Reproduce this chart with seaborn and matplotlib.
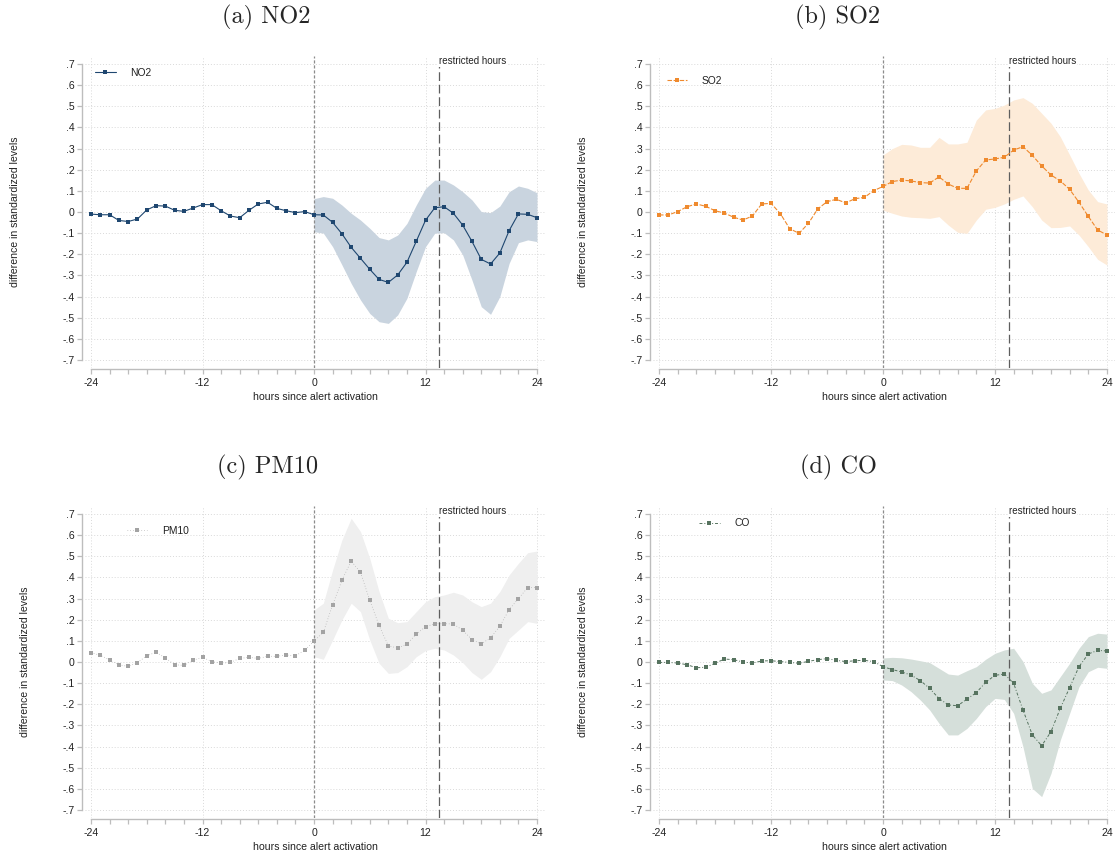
import numpy as np
import pandas as pd
import matplotlib
matplotlib.use("Agg")
import matplotlib.pyplot as plt
import seaborn as sns
from matplotlib.ticker import FixedLocator, FuncFormatter

# Event-study estimates: hours relative to alert activation
hours = list(range(-24, 25))
post_hours = list(range(0, 25))

no2 = [-0.010, -0.013, -0.013, -0.040, -0.045, -0.033, 0.010, 0.030, 0.028, 0.008,
       0.003, 0.019, 0.035, 0.035, 0.006, -0.019, -0.027, 0.008, 0.038, 0.046,
       0.017, 0.006, -0.003, 0.002,
       -0.013, -0.014, -0.049, -0.103, -0.167, -0.219, -0.271, -0.319, -0.333, -0.298,
       -0.238, -0.139, -0.039, 0.020, 0.025, -0.006, -0.062, -0.139, -0.224, -0.246,
       -0.194, -0.088, -0.009, -0.011, -0.027]
no2_hi = [0.063, 0.073, 0.065, 0.033, -0.006, -0.038, -0.077, -0.121, -0.132, -0.109,
          -0.054, 0.033, 0.112, 0.151, 0.151, 0.128, 0.096, 0.057, 0.002, -0.003,
          0.028, 0.096, 0.123, 0.112, 0.091]
no2_lo = [-0.093, -0.100, -0.164, -0.250, -0.338, -0.416, -0.480, -0.519, -0.527, -0.487,
          -0.408, -0.282, -0.164, -0.100, -0.098, -0.132, -0.203, -0.322, -0.448, -0.484,
          -0.400, -0.243, -0.145, -0.132, -0.140]

so2 = [-0.014, -0.014, 0.002, 0.025, 0.038, 0.027, 0.006, -0.005, -0.025, -0.038,
       -0.019, 0.038, 0.041, -0.008, -0.079, -0.101, -0.054, 0.014, 0.049, 0.060,
       0.043, 0.063, 0.069, 0.101,
       0.121, 0.144, 0.151, 0.147, 0.139, 0.137, 0.166, 0.132, 0.112, 0.112,
       0.194, 0.246, 0.251, 0.259, 0.293, 0.309, 0.268, 0.218, 0.175, 0.147,
       0.107, 0.046, -0.021, -0.085, -0.109]
so2_hi = [0.270, 0.300, 0.320, 0.317, 0.306, 0.306, 0.353, 0.322, 0.322, 0.330,
          0.435, 0.483, 0.490, 0.506, 0.530, 0.541, 0.514, 0.467, 0.420, 0.356,
          0.270, 0.183, 0.104, 0.049, 0.038]
so2_lo = [0.009, -0.006, -0.019, -0.025, -0.027, -0.030, -0.022, -0.062, -0.096, -0.101,
          -0.038, 0.013, 0.022, 0.038, 0.060, 0.076, 0.025, -0.038, -0.074, -0.073,
          -0.066, -0.109, -0.164, -0.224, -0.251]

pm10 = [0.044, 0.032, 0.009, -0.013, -0.021, -0.003, 0.030, 0.046, 0.019, -0.013,
        -0.016, 0.009, 0.022, 0.002, -0.006, -0.002, 0.017, 0.022, 0.017, 0.027,
        0.027, 0.033, 0.030, 0.055,
        0.099, 0.140, 0.270, 0.386, 0.478, 0.424, 0.292, 0.173, 0.077, 0.066,
        0.085, 0.132, 0.167, 0.181, 0.181, 0.180, 0.150, 0.106, 0.085, 0.115,
        0.169, 0.248, 0.300, 0.352, 0.352]
pm10_hi = [0.246, 0.278, 0.435, 0.577, 0.680, 0.617, 0.490, 0.333, 0.207, 0.186,
           0.191, 0.238, 0.285, 0.309, 0.317, 0.330, 0.317, 0.285, 0.262, 0.278,
           0.333, 0.412, 0.467, 0.517, 0.525]
pm10_lo = [0.025, 0.013, 0.104, 0.199, 0.278, 0.238, 0.104, -0.006, -0.054, -0.050,
           -0.022, 0.025, 0.054, 0.065, 0.057, 0.033, -0.003, -0.050, -0.082, -0.046,
           0.025, 0.112, 0.151, 0.191, 0.183]

co = [-0.002, -0.002, -0.005, -0.013, -0.027, -0.025, -0.006, 0.014, 0.011, 0.000,
      -0.005, 0.005, 0.006, 0.002, -0.002, -0.006, 0.003, 0.011, 0.016, 0.008,
      0.002, 0.006, 0.008, 0.002,
      -0.022, -0.036, -0.047, -0.062, -0.088, -0.125, -0.173, -0.203, -0.207, -0.175,
      -0.145, -0.096, -0.063, -0.057, -0.101, -0.227, -0.345, -0.396, -0.330, -0.219,
      -0.121, -0.022, 0.038, 0.055, 0.052]
co_hi = [0.019, 0.022, 0.020, 0.014, 0.006, -0.003, -0.030, -0.057, -0.062, -0.041,
         -0.022, 0.013, 0.041, 0.057, 0.065, 0.002, -0.101, -0.148, -0.132, -0.069,
         -0.006, 0.065, 0.120, 0.136, 0.132]
co_lo = [-0.085, -0.088, -0.109, -0.140, -0.180, -0.227, -0.290, -0.345, -0.345, -0.314,
         -0.267, -0.211, -0.172, -0.177, -0.243, -0.401, -0.598, -0.637, -0.527, -0.369,
         -0.243, -0.117, -0.046, -0.025, -0.030]

titles = ["(a) NO2", "(b) SO2", "(c) PM10", "(d) CO"]
pollutants = ["NO2", "SO2", "PM10", "CO"]
x_ticks = [-24, -12, 0, 12, 24]
y_ticks = [round(v, 1) for v in np.arange(-0.7, 0.71, 0.1)]
restricted_start = 13.5

sns.set_theme(style="white")
plt.rcParams["font.family"] = ["Liberation Sans", "DejaVu Sans"]

W, H = 1118, 859
fig = plt.figure(figsize=(W / 100, H / 100), dpi=100)


def rect(left, top, right, bottom):
    return [left / W, 1 - bottom / H, (right - left) / W, (bottom - top) / H]


panels = [
    dict(rect=rect(85, 56, 545, 368), mean=no2, lo=no2_lo, hi=no2_hi,
         color="#1f4770", fill="#c9d4df", ls="-", lw=0.8, ms=2.6,
         leg=(0.022, 0.946), ylab_x=-0.142, title_xy=(266, 17)),
    dict(rect=rect(653, 56, 1115, 368), mean=so2, lo=so2_lo, hi=so2_hi,
         color="#ef8a2e", fill="#fdebd8", ls=(0, (4, 1.5)), lw=0.8, ms=2.6,
         leg=(0.030, 0.920), ylab_x=-0.141, title_xy=(838, 17)),
    dict(rect=rect(85, 506, 545, 818), mean=pm10, lo=pm10_lo, hi=pm10_hi,
         color="#a3a3a3", fill="#efefef", ls=(0, (1, 3)), lw=0.5, ms=2.8,
         leg=(0.091, 0.920), ylab_x=-0.120, title_xy=(268, 467)),
    dict(rect=rect(653, 506, 1115, 818), mean=co, lo=co_lo, hi=co_hi,
         color="#56735f", fill="#d5dfda", ls=(0, (3, 2, 1, 2)), lw=0.7, ms=2.6,
         leg=(0.100, 0.945), ylab_x=-0.141, title_xy=(838, 467)),
]

for p, name, title in zip(panels, pollutants, titles):
    ax = fig.add_axes(p["rect"])
    df = pd.DataFrame({"hour": hours, "value": p["mean"]})
    band = pd.DataFrame({"hour": post_hours, "lo": p["lo"], "hi": p["hi"]})

    ax.fill_between(band["hour"], band["lo"], band["hi"], color=p["fill"],
                    linewidth=0, zorder=1)

    # reference lines: alert activation and start of restricted hours
    ax.axvline(0, color="#8c8c8c", lw=0.9, ls=(0, (2.5, 1.5)), zorder=2)
    ax.axvline(restricted_start, color="#5e5e5e", lw=0.9, ls=(0, (7, 3)), zorder=2)

    sns.lineplot(data=df, x="hour", y="value", ax=ax, color=p["color"],
                 lw=p["lw"], linestyle=p["ls"], marker="s", markersize=p["ms"],
                 markeredgewidth=0, label=name, zorder=3)

    ax.text(restricted_start, 0.714, "restricted hours", ha="left", va="center",
            fontsize=7.0, color="#222222", zorder=4,
            bbox=dict(facecolor="white", edgecolor="none", pad=0.8))

    ax.set_xlim(-24.65, 24.86)
    ax.set_ylim(-0.738, 0.738)

    ax.xaxis.set_major_locator(FixedLocator(list(range(-24, 25, 2))))
    ax.xaxis.set_major_formatter(
        FuncFormatter(lambda v, _: f"{int(round(v))}" if int(round(v)) in x_ticks else ""))
    ax.yaxis.set_major_locator(FixedLocator(y_ticks))
    ax.yaxis.set_major_formatter(
        FuncFormatter(lambda v, _: "0" if abs(v) < 1e-9 else
                      (f"{v:.1f}".replace("0.", "."))))

    # gridlines: horizontal at every tick, vertical only at labelled hours
    for yv in y_ticks:
        ax.axhline(yv, color="#d9d9d9", lw=0.7, ls=(0, (1, 2)), zorder=0)
    for xv in [-24, -12, 12, 24]:
        ax.axvline(xv, color="#d9d9d9", lw=0.7, ls=(0, (1, 2)), zorder=0)
    ax.grid(False)

    for side in ["top", "right"]:
        ax.spines[side].set_visible(False)
    ax.spines["left"].set_position(("outward", 2.2))
    ax.spines["bottom"].set_position(("outward", 0.7))
    ax.spines["left"].set_bounds(-0.7, 0.7)
    ax.spines["bottom"].set_bounds(-24, 24)
    for side in ["left", "bottom"]:
        ax.spines[side].set_color("#bdbdbd")
        ax.spines[side].set_linewidth(1.0)

    ax.tick_params(axis="both", which="major", length=3.5, width=0.9,
                   color="#bdbdbd", labelsize=7.6, labelcolor="#222222", pad=2)
    ax.tick_params(axis="y", left=True)
    ax.tick_params(axis="x", bottom=True, pad=3)

    ax.set_xlabel("hours since alert activation", fontsize=7.6, color="#222222")
    ax.set_ylabel("difference in standardized levels", fontsize=7.6, color="#222222")
    ax.xaxis.set_label_coords(0.5, -0.077)
    ax.yaxis.set_label_coords(p["ylab_x"], 0.5)

    leg = ax.legend(loc="center left", bbox_to_anchor=p["leg"], frameon=False,
                    fontsize=7.4, handlelength=2.0, handletextpad=1.4,
                    borderaxespad=0, borderpad=0)
    for t in leg.get_texts():
        t.set_color("#222222")

    fig.text(p["title_xy"][0] / W, 1 - p["title_xy"][1] / H, title,
             ha="center", va="center", fontsize=17.5, family="cmr10")

fig.savefig("out.png", dpi=100, facecolor="white")
